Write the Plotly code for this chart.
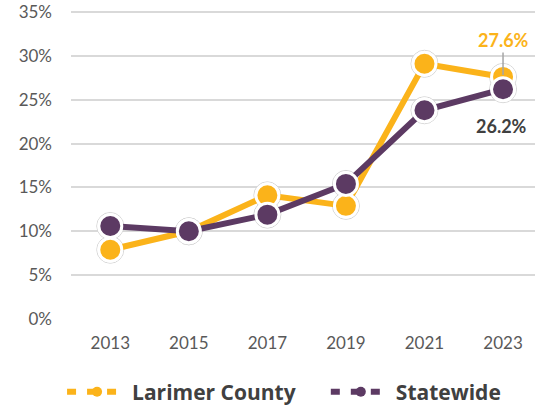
import plotly.graph_objects as go

years = ["2013", "2015", "2017", "2019", "2021", "2023"]
larimer = [7.9, 10.0, 14.1, 12.9, 29.1, 27.6]
statewide = [10.6, 10.0, 11.9, 15.4, 23.8, 26.2]
y_ticks = [0, 5, 10, 15, 20, 25, 30, 35]
y_ticktext = [f"{v}%" for v in y_ticks]

ORANGE = "#FBB31A"
PURPLE = "#5C3A63"
xs = list(range(len(years)))

fig = go.Figure()

# faint outlines behind markers
for ser in (larimer, statewide):
    fig.add_trace(go.Scatter(
        x=xs, y=ser, mode="markers", showlegend=False, hoverinfo="skip",
        marker=dict(size=27, color="white", line=dict(color="#d4d4d4", width=1)),
    ))

for name, ser, col in (("Larimer County", larimer, ORANGE), ("Statewide", statewide, PURPLE)):
    fig.add_trace(go.Scatter(
        x=xs, y=ser, mode="lines+markers", name=name, legendgroup=name, showlegend=False,
        line=dict(color=col, width=6),
        marker=dict(size=23, color=col, line=dict(color="white", width=3)),
    ))

# legend entries (one legend box each, side by side)
for name, col, lg in (("Larimer County", ORANGE, "legend"), ("Statewide", PURPLE, "legend2")):
    fig.add_trace(go.Scatter(
        x=[None], y=[None], mode="lines+markers", name=name, legendgroup=name, legend=lg,
        line=dict(color=col, width=6, dash="9px,11px"),
        marker=dict(size=10, color=col),
    ))

fig.add_annotation(x=5, y=larimer[-1], text="<b>27.6%</b>", showarrow=True,
                   ax=0, ay=-37, arrowhead=0, arrowwidth=1.5, arrowcolor="#a6a6a6",
                   standoff=2, font=dict(family="Lato", size=18, color=ORANGE))
fig.add_annotation(x=5, y=statewide[-1], text="<b>26.2%</b>", showarrow=False,
                   yshift=-37, xshift=-2, font=dict(family="Lato", size=18, color="#404040"))

legend_style = dict(orientation="h", xref="container", yref="container",
                    xanchor="left", y=0.032, yanchor="middle",
                    font=dict(family="Open Sans", size=21, color="#404040", weight="bold"),
                    itemwidth=60, bgcolor="rgba(0,0,0,0)")

fig.update_layout(
    width=535, height=405,
    margin=dict(l=71, r=0, t=10, b=86, autoexpand=False),
    plot_bgcolor="white", paper_bgcolor="white",
    font=dict(family="Lato", size=17, color="#595959"),
    legend=dict(x=0.116, **legend_style),
    legend2=dict(x=0.609, **legend_style),
    xaxis=dict(range=[-0.5, 5.407], tickvals=xs, ticktext=years, showgrid=False,
               zeroline=False, showline=False, ticks="", ticklabelstandoff=12,
               automargin=False),
    yaxis=dict(range=[0, 35.23], tickvals=y_ticks, ticktext=y_ticktext,
               showgrid=True, gridcolor="#d9d9d9", gridwidth=1.5,
               zeroline=False, showline=False, ticks="", ticklabelstandoff=18,
               automargin=False, ticklabeloverflow="allow"),
)

# remove the browser's default 8px body margin so the figure fills the window
fig.write_html("out.html", config={"displayModeBar": False},
               post_script="document.body.style.margin='0';document.body.style.overflow='hidden';")
